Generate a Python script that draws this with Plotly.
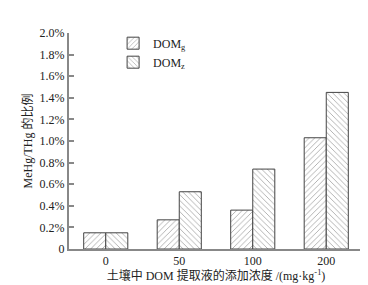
import plotly.graph_objects as go

categories = ["0", "50", "100", "200"]
dom_g = [0.15, 0.27, 0.36, 1.03]
dom_z = [0.15, 0.53, 0.74, 1.45]
y_tickvals = [0, 0.2, 0.4, 0.6, 0.8, 1.0, 1.2, 1.4, 1.6, 1.8, 2.0]
y_ticktext = ["0", "0.2%", "0.4%", "0.6%", "0.8%", "1.0%", "1.2%", "1.4%", "1.6%", "1.8%", "2.0%"]

serif = "Liberation Serif, Times New Roman, serif"
cjk = "Liberation Serif, Noto Sans CJK SC, serif"

fig = go.Figure()
fig.add_trace(go.Bar(
    x=categories, y=dom_g, name="DOM<sub>g</sub>",
    marker=dict(color="white", line=dict(color="#444444", width=1),
                pattern=dict(shape="/", size=4, solidity=0.2, fgcolor="#444444", bgcolor="white")),
))
fig.add_trace(go.Bar(
    x=categories, y=dom_z, name="DOM<sub>z</sub>",
    marker=dict(color="white", line=dict(color="#444444", width=1),
                pattern=dict(shape="\\", size=4, solidity=0.2, fgcolor="#444444", bgcolor="white")),
))

fig.update_layout(
    width=368, height=285,
    margin=dict(l=61, r=13, t=25, b=41),
    paper_bgcolor="white", plot_bgcolor="white",
    barmode="group", bargap=0.4, bargroupgap=0,
    font=dict(family=serif, size=12, color="#222222"),
    showlegend=True,
    legend=dict(x=0.15, y=1.02, xanchor="left", yanchor="top",
                bgcolor="rgba(0,0,0,0)", font=dict(family=serif, size=12),
                itemwidth=30, tracegroupgap=0),
    xaxis=dict(
        showline=True, linecolor="#888888", linewidth=2, ticks="",
        tickfont=dict(family=serif, size=12),
        title=dict(text="土壤中 DOM 提取液的添加浓度 /(mg·kg<sup>-1</sup>)",
                   font=dict(family=cjk, size=12), standoff=4),
        showgrid=False, zeroline=False,
    ),
    yaxis=dict(
        range=[0, 2.0], tickvals=y_tickvals, ticktext=y_ticktext,
        showline=True, linecolor="#888888", linewidth=2,
        ticks="inside", ticklen=5, tickcolor="#888888", tickwidth=1.5,
        tickfont=dict(family=serif, size=12),
        title=dict(text="MeHg/THg 的比例", font=dict(family=cjk, size=12), standoff=4),
        showgrid=False, zeroline=False,
    ),
)
fig.add_shape(type="line", xref="paper", yref="paper", x0=1, x1=1, y0=0, y1=0.025,
              line=dict(color="#888888", width=1.5))

fig.write_html("out.html")
